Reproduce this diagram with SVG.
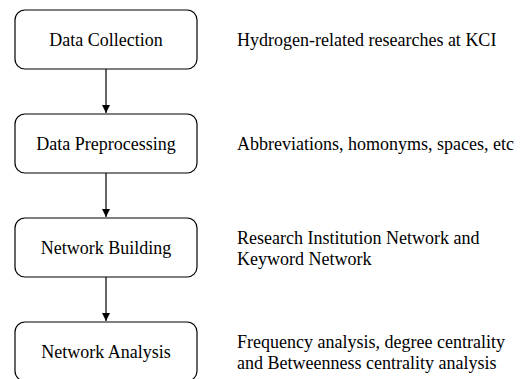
<svg xmlns="http://www.w3.org/2000/svg" width="530" height="379" viewBox="0 0 530 379">
<style>
.box{fill:#fff;stroke:#000;stroke-width:1.2}
.t{font-family:"Liberation Serif","Times New Roman",serif;font-size:18px;fill:#000}
.c{text-anchor:middle}
.edge{stroke:#000;stroke-width:1.2;fill:none}
</style>
<defs>
<marker id="ah" markerWidth="8" markerHeight="10" refX="8" refY="4" orient="auto" markerUnits="userSpaceOnUse" viewBox="0 0 8 8">
<path d="M0,0 L8,4 L0,8 Z" fill="#000"/>
</marker>
</defs>
<rect width="530" height="379" fill="#fff"/>
<g id="n1"><rect class="box" x="15" y="10" width="182" height="59" rx="10"/><text class="t c" x="106" y="46">Data Collection</text></g>
<g id="n2"><rect class="box" x="15" y="114" width="182" height="59" rx="10"/><text class="t c" x="106" y="150">Data Preprocessing</text></g>
<g id="n3"><rect class="box" x="15" y="218" width="182" height="59" rx="10"/><text class="t c" x="106" y="254">Network Building</text></g>
<g id="n4"><rect class="box" x="15" y="322" width="182" height="59" rx="10"/><text class="t c" x="106" y="358">Network Analysis</text></g>
<g id="d1"><text class="t" x="237" y="46">Hydrogen-related researches at KCI</text></g>
<g id="d2"><text class="t" x="237" y="150">Abbreviations, homonyms, spaces, etc</text></g>
<g id="d3"><text class="t" x="237" y="244">Research Institution Network and</text><text class="t" x="237" y="265">Keyword Network</text></g>
<g id="d4"><text class="t" x="237" y="348">Frequency analysis, degree centrality</text><text class="t" x="237" y="369">and Betweenness centrality analysis</text></g>
<g id="edges">
<line class="edge" x1="106" y1="69" x2="106" y2="113" marker-end="url(#ah)"/>
<line class="edge" x1="106" y1="173" x2="106" y2="217" marker-end="url(#ah)"/>
<line class="edge" x1="106" y1="277" x2="106" y2="321" marker-end="url(#ah)"/>
</g>
</svg>
